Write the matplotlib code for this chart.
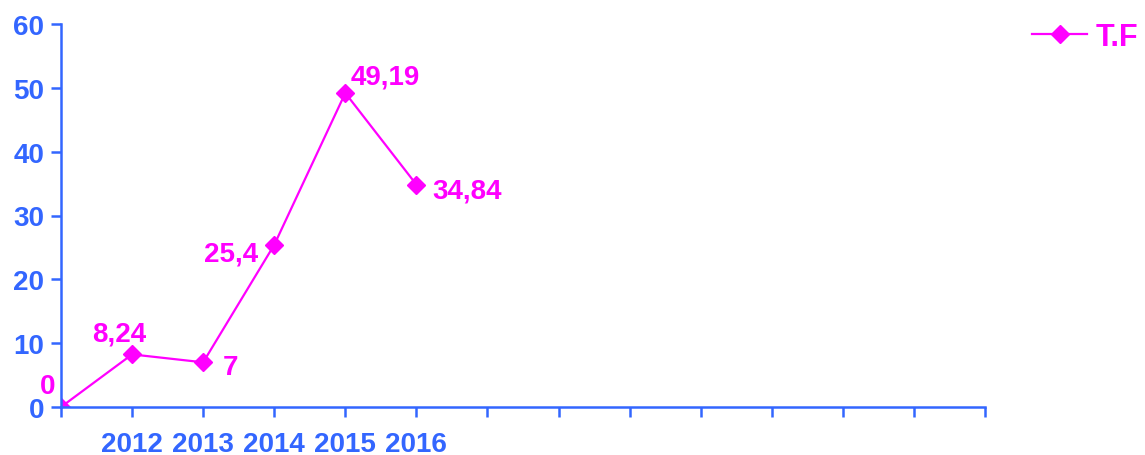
import matplotlib
matplotlib.use("Agg")
import matplotlib.pyplot as plt

plt.rcParams['font.family'] = ['Liberation Sans', 'DejaVu Sans']
plt.rcParams['font.weight'] = 'bold'

blue = '#3366ff'
pink = '#ff00ff'

categories = ['', '2012', '2013', '2014', '2015', '2016',
              '', '', '', '', '', '', '', '']
values = [0, 8.24, 7, 25.4, 49.19, 34.84]
labels = ['0', '8,24', '7', '25,4', '49,19', '34,84']
# label offsets in points (dx, dy) and alignment
offsets = [(-9.5, 15, 'center'), (-9, 15, 'center'), (14, -3.6, 'left'),
           (-11.5, -6, 'right'), (3.6, 12, 'left'), (11.5, -4, 'left')]

fig = plt.figure(figsize=(11.45, 4.56), dpi=100)
ax = fig.add_axes([61 / 1145, 48 / 456, 924 / 1145, 383 / 456])

x = list(range(len(values)))
ax.plot(x, values, color=pink, lw=1.6, marker='D', ms=9, label='T.F')

for xi, v, lab, (dx, dy, ha) in zip(x, values, labels, offsets):
    ax.annotate(lab, (xi, v), xytext=(dx, dy), textcoords='offset points',
                ha=ha, va='center', color=pink, fontsize=20, fontweight='bold')

ax.set_xlim(0, len(categories) - 1)
ax.set_ylim(0, 60)
ax.set_yticks(range(0, 61, 10))
ax.set_xticks(range(len(categories)))
ax.set_xticklabels(categories)

for s in ['top', 'right']:
    ax.spines[s].set_visible(False)
for s in ['left', 'bottom']:
    ax.spines[s].set_color(blue)
    ax.spines[s].set_linewidth(1.8)
ax.tick_params(axis='both', colors=blue, width=1.8, length=7, labelsize=20)
ax.tick_params(axis='x', pad=10)
ax.tick_params(axis='y', pad=5)
for t in ax.get_xticklabels() + ax.get_yticklabels():
    t.set_fontweight('bold')

fs_px = 22 * 100 / 72
leg = fig.legend(loc='center left', bbox_to_anchor=(1032 / 1145, 1 - 38 / 456),
                 frameon=False, borderpad=0, borderaxespad=0,
                 handlelength=55 / fs_px, handletextpad=9 / fs_px,
                 prop={'size': 22, 'weight': 'bold'})
for t in leg.get_texts():
    t.set_color(pink)

fig.savefig('out.png', dpi=100)
